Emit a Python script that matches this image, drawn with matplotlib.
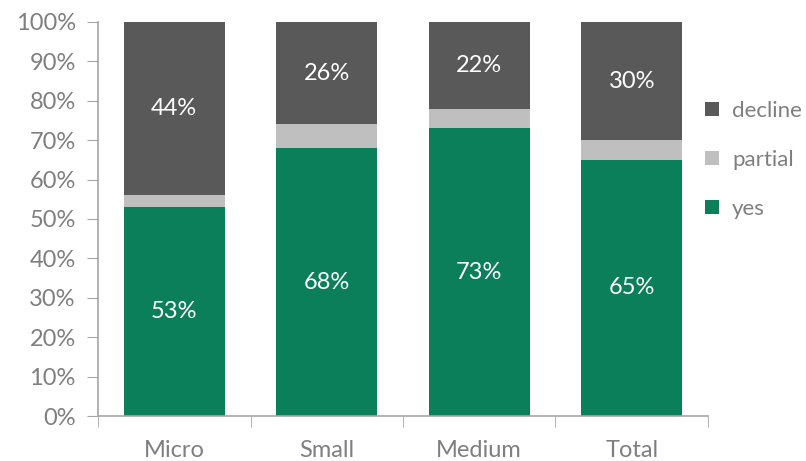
import matplotlib.pyplot as plt
import numpy as np

plt.rcParams['font.family'] = ['Lato', 'DejaVu Sans']

categories = ["Micro", "Small", "Medium", "Total"]
yes = [53, 68, 73, 65]
partial = [3, 6, 5, 5]
decline = [44, 26, 22, 30]

green = "#0b7f5a"
light = "#bfbfbf"
dark = "#595959"
axis_col = "#a6a6a6"
text_col = "#7f7f7f"

fig = plt.figure(figsize=(8.06, 4.61), dpi=100)
ax = fig.add_axes([0.1216, 0.0976, 0.7568, 0.8547])

x = np.arange(len(categories))
yes_a = np.array(yes)
part_a = np.array(partial)
dec_a = np.array(decline)
w = 0.66

b_yes = ax.bar(x, yes_a, w, color=green, label="yes")
b_part = ax.bar(x, part_a, w, bottom=yes_a, color=light, label="partial")
b_dec = ax.bar(x, dec_a, w, bottom=yes_a + part_a, color=dark, label="decline")

for i in range(len(x)):
    ax.text(x[i], yes_a[i] / 2, f"{yes[i]}%", ha="center", va="center",
            color="white", fontsize=17)
    ax.text(x[i], yes_a[i] + part_a[i] + dec_a[i] / 2, f"{decline[i]}%",
            ha="center", va="center", color="white", fontsize=17)

ax.set_xlim(-0.5, len(x) - 0.5)
ax.set_ylim(0, 100)
ax.set_yticks(range(0, 101, 10))
ax.set_yticklabels([f"{v}%" for v in range(0, 101, 10)])
ax.set_xticks(x)
ax.set_xticklabels(categories)
ax.set_xticks(np.arange(-0.5, len(x)), minor=True)
ax.tick_params(axis="x", which="major", length=0, pad=17)
ax.tick_params(axis="x", which="minor", length=8, color=axis_col, direction="out")
ax.tick_params(axis="y", length=8, color=axis_col, pad=8)
ax.tick_params(labelsize=17, labelcolor=text_col)

for s in ["top", "right"]:
    ax.spines[s].set_visible(False)
for s in ["left", "bottom"]:
    ax.spines[s].set_color(axis_col)
    ax.spines[s].set_linewidth(1.2)

handles = [b_dec, b_part, b_yes]
leg = fig.legend(handles, ["decline", "partial", "yes"], loc="center left",
                 bbox_to_anchor=(0.875, 0.653), frameon=False, fontsize=16,
                 borderpad=0, borderaxespad=0,
                 handlelength=0.6, handleheight=0.6, handletextpad=0.6,
                 labelspacing=1.3, labelcolor=text_col)

fig.savefig("out.png", dpi=100)
